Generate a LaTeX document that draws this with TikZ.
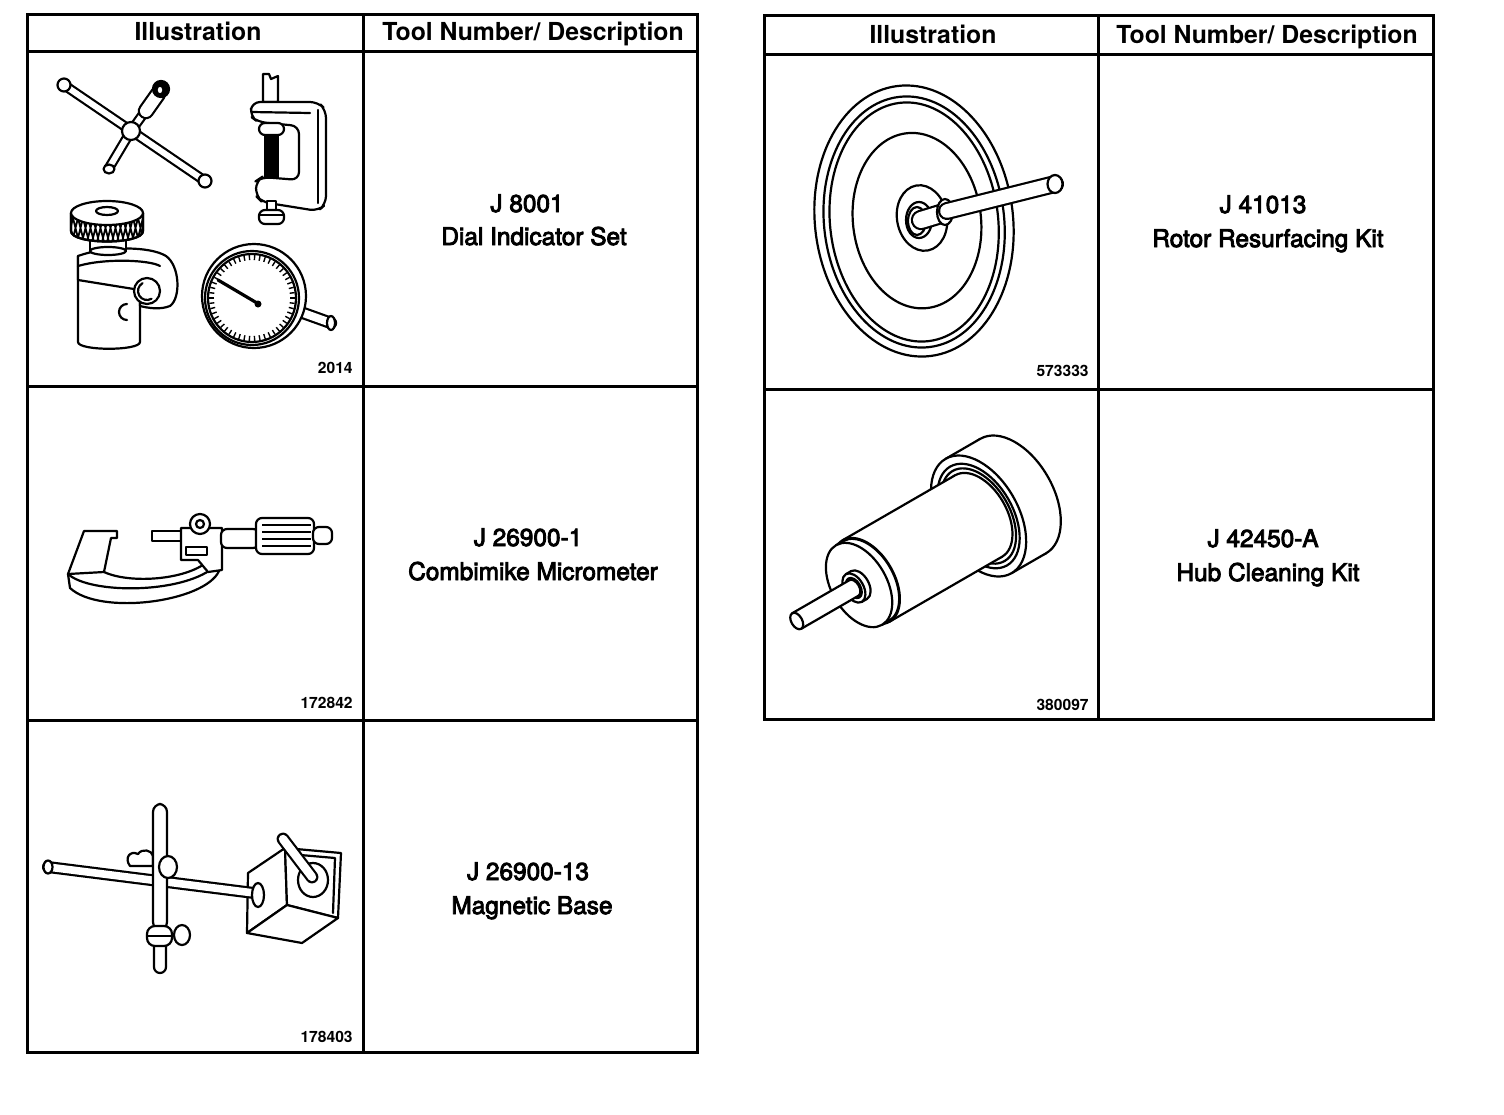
\documentclass[tikz,border=0pt]{standalone}
\usepackage{fontspec}
\setmainfont{TeX Gyre Heros}
\newfontfamily\bodyfont[FakeBold=3.5]{TeX Gyre Heros}
\newcommand{\hubcyl}[3]{%
  \filldraw[ill, fill=white] (#2,0) ellipse [x radius={0.6*#3}, y radius=#3];
  \fill[white] (#1,-#3) rectangle (#2,#3);
  \draw[ill] (#1,-#3) -- (#2,-#3) (#1,#3) -- (#2,#3);
  \filldraw[ill, fill=white] (#1,0) ellipse [x radius={0.6*#3}, y radius=#3];
}
\tikzset{
  tbl/.style={line width=1.5pt},
  ill/.style={line width=1.1pt, line join=round, line cap=round},
  hdr/.style={font=\fontsize{12.4}{14}\selectfont\bfseries, anchor=base, inner sep=0pt},
  desc/.style={font=\bodyfont\fontsize{12.2}{14}\selectfont, anchor=base, inner sep=0pt},
  fignum/.style={font=\fontsize{7.8}{9}\selectfont\bfseries, anchor=base east, inner sep=0pt},
}
\begin{document}
\begin{tikzpicture}[x=0.5pt,y=-0.5pt]
\useasboundingbox (0,0) rectangle (1504,1114);
\fill[white] (0,0) rectangle (1504,1114);

% ---------------- tables ----------------
\draw[tbl] (27,14) rectangle (697,1052);
\draw[tbl] (363,14) -- (363,1052);
\draw[tbl] (27,51) -- (697,51) (27,386) -- (697,386) (27,720) -- (697,720);
\draw[tbl] (764,15) rectangle (1433,719);
\draw[tbl] (1098,15) -- (1098,719);
\draw[tbl] (764,54) -- (1433,54) (764,389) -- (1433,389);

% ---------------- texts ----------------
\node[hdr] (hL1) at (198,40) {Illustration};
\node[hdr] (hL2) at (533,40) {Tool Number/ Description};
\node[hdr] (hR1) at (933,43) {Illustration};
\node[hdr] (hR2) at (1267,43) {Tool Number/ Description};
\node[desc] (d1a) at (527,212) {J 8001};
\node[desc] (d1b) at (534,245) {Dial Indicator Set};
\node[desc] (d2a) at (528,546) {J 26900-1};
\node[desc] (d2b) at (533,580) {Combimike Micrometer};
\node[desc] (d3a) at (528,880) {J 26900-13};
\node[desc] (d3b) at (532,914) {Magnetic Base};
\node[desc] (d4a) at (1263,213) {J 41013};
\node[desc] (d4b) at (1268,247) {Rotor Resurfacing Kit};
\node[desc] (d5a) at (1263,547) {J 42450-A};
\node[desc] (d5b) at (1268,581) {Hub Cleaning Kit};
\node[fignum] (n1) at (353,373) {2014};
\node[fignum] (n2) at (353,708) {172842};
\node[fignum] (n3) at (353,1042) {178403};
\node[fignum] (n4) at (1089,376) {573333};
\node[fignum] (n5) at (1089,710) {380097};

% ---------------- Dial indicator set ----------------
% T-handle
\draw[ill, double=white, double distance=3pt] (64,85) -- (205,181);
\draw[ill, double=white, double distance=3pt] (131,131) -- (109,168);
\filldraw[ill, fill=white] (109,169) ellipse [x radius=5.5, y radius=4.5];
\draw[ill, double=white, double distance=3pt] (131,131) -- (149,106);
\draw[ill, double=white, double distance=6pt] (146,111) -- (158,94);
\filldraw[ill, fill=black] (161,89) ellipse [x radius=8, y radius=8];
\filldraw[ill, fill=white] (160,90) ellipse [x radius=3.5, y radius=4.5];
\filldraw[ill, fill=white] (131,131) circle (9);
\filldraw[ill, fill=white] (64,85) circle (6.5);
\filldraw[ill, fill=white] (205,181) circle (6.5);

% C-clamp
\filldraw[ill, fill=white] (263,74) -- (269,74) -- (271,79) -- (278,76) -- (278,102) -- (263,102) -- cycle;
\filldraw[ill, fill=white, rounded corners=4] (252,102) -- (318,102) -- (326,110) -- (326,204) -- (318,211) -- (262,202) -- (256,196) -- (256,181) -- (262,177) -- (299,180) -- (299,126) -- (258,122) -- (250,116) -- cycle;
\draw[ill] (318,110) -- (318,203);
\draw[ill] (252,112) -- (310,113);
\fill (264,134) rectangle (279,179);
\filldraw[ill, fill=white, rounded corners=3] (259,123) rectangle (284,135);
\filldraw[ill, fill=white] (267,201) rectangle (276,211);
\filldraw[ill, fill=white, rounded corners=3] (259,210) rectangle (284,224);
\draw[ill] (259,215) -- (284,215);

% knurled post
\filldraw[ill, fill=white] (78,256) -- (78,342) .. controls (78,351) and (140,351) .. (140,342) -- (140,256) -- cycle;
\filldraw[ill, fill=white] (78,256) .. controls (105,246) and (150,246) .. (166,256) .. controls (180,266) and (181,298) .. (170,306) .. controls (160,310) and (148,308) .. (140,306) -- (140,290) -- (78,280) -- cycle;
\draw[ill] (78,266) .. controls (105,258) and (150,260) .. (160,266);
\filldraw[ill, fill=white] (147,291) circle (13);
\draw[ill] (147,291) ++(60:9) arc (60:240:9);
\draw[ill] (127,320) arc (90:270:8);
\filldraw[ill, fill=white] (90,238) rectangle (126,251);
\filldraw[ill, fill=white] (108,251) ellipse [x radius=18, y radius=4];
\filldraw[ill, fill=white] (71,213) -- (71,231) .. controls (71,245) and (143,245) .. (143,231) -- (143,213) -- cycle;
\begin{scope}
  \clip (71,214) -- (71,231) .. controls (71,245) and (143,245) .. (143,231) -- (143,214) -- cycle;
  \foreach \k in {62,67,...,148} {\draw[line width=0.9pt] (\k,214) -- (\k+7,242) (\k+7,214) -- (\k,242);}
\end{scope}
\draw[ill] (71,213) -- (71,231) .. controls (71,245) and (143,245) .. (143,231) -- (143,213);
\filldraw[ill, fill=white] (107,213) ellipse [x radius=36, y radius=12];
\draw[ill] (107,211) ellipse [x radius=11, y radius=4];

% dial gauge
\draw[ill, double=white, double distance=4pt] (292,309) -- (331,323);
\filldraw[ill, fill=white] (331,323) ellipse [x radius=4, y radius=7];
\filldraw[ill, fill=white] (254,296) circle (52);
\draw[ill] (252,298) circle (47);
\draw[ill] (252,298) circle (44);
\foreach \a in {0,7.2,...,359} {\draw[line width=0.7pt] (252,298) ++(\a:38) -- ++(\a:5);}
\draw[line width=1.6pt, line cap=round] (218,280) -- (257,303);
\fill (258,304) circle (3.5);

% ---------------- Micrometer ----------------
\filldraw[ill, fill=white] (84,531) -- (117,531) -- (117,538) -- (111,538) -- (104,572) .. controls (130,584) and (185,580) .. (207,562) -- (219,571) .. controls (205,602) and (100,616) .. (70,588) -- (68,574) -- cycle;
\draw[ill] (68,574) .. controls (90,594) and (180,594) .. (213,568);
\draw[ill] (68,574) -- (104,572);
\filldraw[ill, fill=white] (152,531) rectangle (183,541);
\filldraw[ill, fill=white] (181,528) -- (222,528) -- (222,570) -- (208,572) -- (198,560) -- (181,560) -- cycle;
\draw[ill] (186,547) rectangle (207,555);
\filldraw[ill, fill=white] (200,524) circle (10);
\draw[ill] (200,524) circle (4);
\filldraw[ill, fill=white, rounded corners=3] (221,529) rectangle (259,548);
\filldraw[ill, fill=white, rounded corners=3] (256,518) rectangle (314,554);
\foreach \yy in {525,532,539,546} {\draw[line width=0.8pt] (262,\yy) -- (311,\yy);}
\filldraw[ill, fill=white, rounded corners=3] (313,527) rectangle (332,544);

% ---------------- Magnetic base ----------------
\filldraw[ill, fill=white] (248,873) -- (285,848) -- (287,905) -- (247,933) -- cycle;
\filldraw[ill, fill=white] (285,848) -- (341,853) -- (338,918) -- (287,905) -- cycle;
\filldraw[ill, fill=white] (247,933) -- (287,905) -- (338,918) -- (302,943) -- cycle;
\draw[ill] (289,854) -- (335,858) -- (333,913);
\filldraw[ill, fill=white] (313,880) ellipse [x radius=15, y radius=17];
\draw[ill, double=white, double distance=4.2pt] (283,839) -- (312,877);
\filldraw[ill, fill=white] (130,866) .. controls (124,858) and (130,850) .. (138,854) .. controls (142,848) and (152,850) .. (153,856) -- (153,866) -- cycle;
\draw[ill, double=white, double distance=3.8pt] (48,867) -- (254,893);
\filldraw[ill, fill=white] (48,867) ellipse [x radius=4.5, y radius=6.5];
\filldraw[ill, fill=white] (258,895) ellipse [x radius=6, y radius=12];
\filldraw[ill, fill=white, rounded corners=4] (153,804) rectangle (167,930);
\filldraw[ill, fill=white, rounded corners=3] (154,940) rectangle (166,973);
\filldraw[ill, fill=white] (168,867) ellipse [x radius=9, y radius=11];
\filldraw[ill, fill=white, rounded corners=4] (147,926) rectangle (172,946);
\draw[ill] (147,936) -- (172,936);
\filldraw[ill, fill=white] (182,935) ellipse [x radius=8, y radius=10];

% ---------------- Rotor ----------------
\begin{scope}[rotate around={7:(914,221)}]
\filldraw[ill, fill=white] (914,221) ellipse [x radius=99, y radius=136];
\draw[ill] (914,222) ellipse [x radius=90, y radius=126];
\draw[ill] (914,222) ellipse [x radius=84, y radius=120];
\draw[ill] (917,221) ellipse [x radius=64, y radius=88];
\end{scope}
\filldraw[ill, fill=white, rotate around={10:(922,218)}] (922,218) ellipse [x radius=25, y radius=33];
\draw[ill] (919,220) ellipse [x radius=13, y radius=18];
\draw[ill] (917,221) ellipse [x radius=9, y radius=14];
\draw[ill, double=white, double distance=8pt] (921,220) -- (944,213);
\filldraw[ill, fill=white] (945,212) ellipse [x radius=8, y radius=13];
\draw[ill, double=white, double distance=6.8pt] (947,211) -- (1055,184);
\filldraw[ill, fill=white] (1055,184) ellipse [x radius=7.5, y radius=9];

% ---------------- Hub cleaning kit ----------------
\begin{scope}[shift={(866,581)}, rotate=30]
\hubcyl{130}{170}{66}
\draw[ill] (130,0) ellipse [x radius={0.6*57}, y radius=57];
\draw[ill] (130,0) ellipse [x radius={0.6*52}, y radius=52];
\hubcyl{0}{130}{47}
\hubcyl{-8}{0}{46}
\hubcyl{-14}{-8}{16}
\draw[ill] (-14,0) ellipse [x radius={0.6*11}, y radius=11];
\hubcyl{-80}{-14}{9}
\end{scope}
\end{tikzpicture}
\end{document}
